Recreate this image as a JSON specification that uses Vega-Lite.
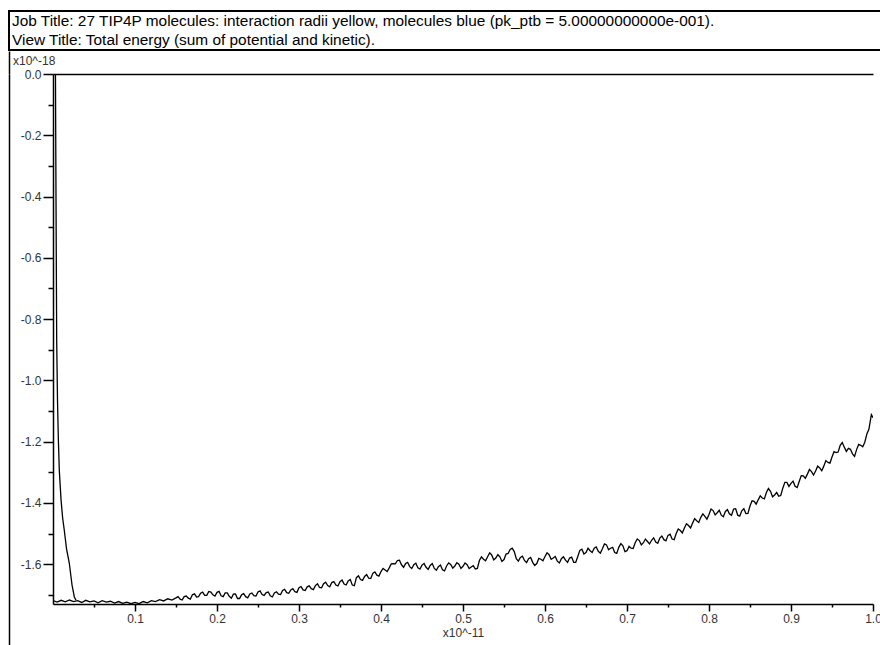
{
  "$schema": "https://vega.github.io/schema/vega-lite/v6.json",
  "padding": {"left": 8, "top": 10, "right": 0, "bottom": 0},
  "background": "white",
  "config": {
    "font": "Liberation Sans",
    "view": {"stroke": null},
    "axis": {"grid": false}
  },
  "datasets": {
    "header": [
      {"row": 1, "text": "Job Title: 27 TIP4P molecules: interaction radii yellow, molecules blue (pk_ptb = 5.00000000000e-001)."},
      {"row": 2, "text": "View Title: Total energy (sum of potential and kinetic)."}
    ],
    "unit": [
      {"label": "x10^-18"}
    ],
    "energy": [
      {"seg": "a", "t": 0.0030, "e": 0.0},
      {"seg": "a", "t": 0.0034, "e": -0.25},
      {"seg": "a", "t": 0.0037, "e": -0.42},
      {"seg": "a", "t": 0.0041, "e": -0.65},
      {"seg": "a", "t": 0.0045, "e": -0.87},
      {"seg": "a", "t": 0.0055, "e": -1.067},
      {"seg": "a", "t": 0.0065, "e": -1.19},
      {"seg": "a", "t": 0.0077, "e": -1.294},
      {"seg": "a", "t": 0.0098, "e": -1.39},
      {"seg": "a", "t": 0.0118, "e": -1.45},
      {"seg": "a", "t": 0.0138, "e": -1.49},
      {"seg": "a", "t": 0.0165, "e": -1.55},
      {"seg": "a", "t": 0.0199, "e": -1.597},
      {"seg": "a", "t": 0.0232, "e": -1.668},
      {"seg": "a", "t": 0.026, "e": -1.707},
      {"seg": "a", "t": 0.028, "e": -1.718},
      {"seg": "b", "t": 0.000, "e": -1.719},
      {"seg": "b", "t": 0.005, "e": -1.724},
      {"seg": "b", "t": 0.010, "e": -1.718},
      {"seg": "b", "t": 0.015, "e": -1.723},
      {"seg": "b", "t": 0.020, "e": -1.717},
      {"seg": "b", "t": 0.025, "e": -1.722},
      {"seg": "b", "t": 0.030, "e": -1.719},
      {"seg": "b", "t": 0.035, "e": -1.725},
      {"seg": "b", "t": 0.040, "e": -1.718},
      {"seg": "b", "t": 0.045, "e": -1.723},
      {"seg": "b", "t": 0.050, "e": -1.720},
      {"seg": "b", "t": 0.055, "e": -1.726},
      {"seg": "b", "t": 0.060, "e": -1.719},
      {"seg": "b", "t": 0.065, "e": -1.724},
      {"seg": "b", "t": 0.070, "e": -1.721},
      {"seg": "b", "t": 0.075, "e": -1.727},
      {"seg": "b", "t": 0.080, "e": -1.722},
      {"seg": "b", "t": 0.085, "e": -1.728},
      {"seg": "b", "t": 0.090, "e": -1.724},
      {"seg": "b", "t": 0.095, "e": -1.729},
      {"seg": "b", "t": 0.100, "e": -1.725},
      {"seg": "b", "t": 0.105, "e": -1.729},
      {"seg": "b", "t": 0.110, "e": -1.722},
      {"seg": "b", "t": 0.115, "e": -1.726},
      {"seg": "b", "t": 0.120, "e": -1.719},
      {"seg": "b", "t": 0.125, "e": -1.722},
      {"seg": "b", "t": 0.130, "e": -1.716},
      {"seg": "b", "t": 0.135, "e": -1.720},
      {"seg": "b", "t": 0.140, "e": -1.713},
      {"seg": "b", "t": 0.145, "e": -1.717},
      {"seg": "b", "t": 0.150, "e": -1.710},
      {"seg": "b", "t": 0.155, "e": -1.714},
      {"seg": "b", "t": 0.160, "e": -1.706},
      {"seg": "b", "t": 0.165, "e": -1.711},
      {"seg": "b", "t": 0.170, "e": -1.700},
      {"seg": "b", "t": 0.175, "e": -1.707},
      {"seg": "b", "t": 0.180, "e": -1.695},
      {"seg": "b", "t": 0.185, "e": -1.702},
      {"seg": "b", "t": 0.190, "e": -1.689},
      {"seg": "b", "t": 0.195, "e": -1.700},
      {"seg": "b", "t": 0.200, "e": -1.692},
      {"seg": "b", "t": 0.205, "e": -1.703},
      {"seg": "b", "t": 0.210, "e": -1.694},
      {"seg": "b", "t": 0.215, "e": -1.705},
      {"seg": "b", "t": 0.220, "e": -1.698},
      {"seg": "b", "t": 0.225, "e": -1.712},
      {"seg": "b", "t": 0.230, "e": -1.700},
      {"seg": "b", "t": 0.235, "e": -1.706},
      {"seg": "b", "t": 0.240, "e": -1.697},
      {"seg": "b", "t": 0.245, "e": -1.703},
      {"seg": "b", "t": 0.250, "e": -1.691},
      {"seg": "b", "t": 0.255, "e": -1.699},
      {"seg": "b", "t": 0.260, "e": -1.693},
      {"seg": "b", "t": 0.265, "e": -1.703},
      {"seg": "b", "t": 0.270, "e": -1.694},
      {"seg": "b", "t": 0.275, "e": -1.698},
      {"seg": "b", "t": 0.280, "e": -1.686},
      {"seg": "b", "t": 0.285, "e": -1.693},
      {"seg": "b", "t": 0.290, "e": -1.684},
      {"seg": "b", "t": 0.295, "e": -1.690},
      {"seg": "b", "t": 0.300, "e": -1.677},
      {"seg": "b", "t": 0.305, "e": -1.684},
      {"seg": "b", "t": 0.310, "e": -1.674},
      {"seg": "b", "t": 0.315, "e": -1.680},
      {"seg": "b", "t": 0.320, "e": -1.670},
      {"seg": "b", "t": 0.325, "e": -1.676},
      {"seg": "b", "t": 0.330, "e": -1.664},
      {"seg": "b", "t": 0.335, "e": -1.670},
      {"seg": "b", "t": 0.340, "e": -1.660},
      {"seg": "b", "t": 0.345, "e": -1.668},
      {"seg": "b", "t": 0.350, "e": -1.657},
      {"seg": "b", "t": 0.355, "e": -1.665},
      {"seg": "b", "t": 0.360, "e": -1.655},
      {"seg": "b", "t": 0.365, "e": -1.668},
      {"seg": "b", "t": 0.370, "e": -1.644},
      {"seg": "b", "t": 0.375, "e": -1.650},
      {"seg": "b", "t": 0.380, "e": -1.640},
      {"seg": "b", "t": 0.385, "e": -1.646},
      {"seg": "b", "t": 0.390, "e": -1.630},
      {"seg": "b", "t": 0.395, "e": -1.636},
      {"seg": "b", "t": 0.400, "e": -1.624},
      {"seg": "b", "t": 0.405, "e": -1.619},
      {"seg": "b", "t": 0.410, "e": -1.612},
      {"seg": "b", "t": 0.415, "e": -1.598},
      {"seg": "b", "t": 0.420, "e": -1.588},
      {"seg": "b", "t": 0.425, "e": -1.602},
      {"seg": "b", "t": 0.430, "e": -1.598},
      {"seg": "b", "t": 0.435, "e": -1.608},
      {"seg": "b", "t": 0.440, "e": -1.602},
      {"seg": "b", "t": 0.445, "e": -1.612},
      {"seg": "b", "t": 0.450, "e": -1.603},
      {"seg": "b", "t": 0.455, "e": -1.610},
      {"seg": "b", "t": 0.460, "e": -1.604},
      {"seg": "b", "t": 0.465, "e": -1.614},
      {"seg": "b", "t": 0.470, "e": -1.608},
      {"seg": "b", "t": 0.475, "e": -1.618},
      {"seg": "b", "t": 0.480, "e": -1.606},
      {"seg": "b", "t": 0.485, "e": -1.601},
      {"seg": "b", "t": 0.490, "e": -1.606},
      {"seg": "b", "t": 0.495, "e": -1.600},
      {"seg": "b", "t": 0.500, "e": -1.607},
      {"seg": "b", "t": 0.505, "e": -1.602},
      {"seg": "b", "t": 0.510, "e": -1.609},
      {"seg": "b", "t": 0.515, "e": -1.616},
      {"seg": "b", "t": 0.520, "e": -1.588},
      {"seg": "b", "t": 0.525, "e": -1.584},
      {"seg": "b", "t": 0.530, "e": -1.576},
      {"seg": "b", "t": 0.535, "e": -1.570},
      {"seg": "b", "t": 0.540, "e": -1.580},
      {"seg": "b", "t": 0.545, "e": -1.576},
      {"seg": "b", "t": 0.550, "e": -1.585},
      {"seg": "b", "t": 0.555, "e": -1.565},
      {"seg": "b", "t": 0.560, "e": -1.548},
      {"seg": "b", "t": 0.565, "e": -1.582},
      {"seg": "b", "t": 0.570, "e": -1.578},
      {"seg": "b", "t": 0.575, "e": -1.588},
      {"seg": "b", "t": 0.580, "e": -1.582},
      {"seg": "b", "t": 0.585, "e": -1.594},
      {"seg": "b", "t": 0.590, "e": -1.598},
      {"seg": "b", "t": 0.595, "e": -1.584},
      {"seg": "b", "t": 0.600, "e": -1.575},
      {"seg": "b", "t": 0.605, "e": -1.569},
      {"seg": "b", "t": 0.610, "e": -1.580},
      {"seg": "b", "t": 0.615, "e": -1.590},
      {"seg": "b", "t": 0.620, "e": -1.582},
      {"seg": "b", "t": 0.625, "e": -1.587},
      {"seg": "b", "t": 0.630, "e": -1.580},
      {"seg": "b", "t": 0.635, "e": -1.594},
      {"seg": "b", "t": 0.640, "e": -1.575},
      {"seg": "b", "t": 0.645, "e": -1.551},
      {"seg": "b", "t": 0.650, "e": -1.562},
      {"seg": "b", "t": 0.655, "e": -1.556},
      {"seg": "b", "t": 0.660, "e": -1.548},
      {"seg": "b", "t": 0.665, "e": -1.558},
      {"seg": "b", "t": 0.670, "e": -1.550},
      {"seg": "b", "t": 0.675, "e": -1.537},
      {"seg": "b", "t": 0.680, "e": -1.548},
      {"seg": "b", "t": 0.685, "e": -1.562},
      {"seg": "b", "t": 0.690, "e": -1.545},
      {"seg": "b", "t": 0.695, "e": -1.540},
      {"seg": "b", "t": 0.700, "e": -1.556},
      {"seg": "b", "t": 0.705, "e": -1.548},
      {"seg": "b", "t": 0.710, "e": -1.530},
      {"seg": "b", "t": 0.715, "e": -1.523},
      {"seg": "b", "t": 0.720, "e": -1.530},
      {"seg": "b", "t": 0.725, "e": -1.526},
      {"seg": "b", "t": 0.730, "e": -1.522},
      {"seg": "b", "t": 0.735, "e": -1.528},
      {"seg": "b", "t": 0.740, "e": -1.515},
      {"seg": "b", "t": 0.745, "e": -1.520},
      {"seg": "b", "t": 0.750, "e": -1.506},
      {"seg": "b", "t": 0.755, "e": -1.518},
      {"seg": "b", "t": 0.760, "e": -1.500},
      {"seg": "b", "t": 0.765, "e": -1.490},
      {"seg": "b", "t": 0.770, "e": -1.482},
      {"seg": "b", "t": 0.775, "e": -1.474},
      {"seg": "b", "t": 0.780, "e": -1.466},
      {"seg": "b", "t": 0.785, "e": -1.458},
      {"seg": "b", "t": 0.790, "e": -1.447},
      {"seg": "b", "t": 0.795, "e": -1.444},
      {"seg": "b", "t": 0.800, "e": -1.438},
      {"seg": "b", "t": 0.805, "e": -1.425},
      {"seg": "b", "t": 0.810, "e": -1.432},
      {"seg": "b", "t": 0.815, "e": -1.440},
      {"seg": "b", "t": 0.820, "e": -1.428},
      {"seg": "b", "t": 0.825, "e": -1.436},
      {"seg": "b", "t": 0.830, "e": -1.420},
      {"seg": "b", "t": 0.835, "e": -1.440},
      {"seg": "b", "t": 0.840, "e": -1.426},
      {"seg": "b", "t": 0.845, "e": -1.435},
      {"seg": "b", "t": 0.850, "e": -1.410},
      {"seg": "b", "t": 0.855, "e": -1.395},
      {"seg": "b", "t": 0.860, "e": -1.390},
      {"seg": "b", "t": 0.865, "e": -1.384},
      {"seg": "b", "t": 0.870, "e": -1.366},
      {"seg": "b", "t": 0.875, "e": -1.362},
      {"seg": "b", "t": 0.880, "e": -1.374},
      {"seg": "b", "t": 0.885, "e": -1.378},
      {"seg": "b", "t": 0.890, "e": -1.352},
      {"seg": "b", "t": 0.895, "e": -1.333},
      {"seg": "b", "t": 0.900, "e": -1.336},
      {"seg": "b", "t": 0.905, "e": -1.346},
      {"seg": "b", "t": 0.910, "e": -1.330},
      {"seg": "b", "t": 0.915, "e": -1.312},
      {"seg": "b", "t": 0.920, "e": -1.306},
      {"seg": "b", "t": 0.925, "e": -1.298},
      {"seg": "b", "t": 0.930, "e": -1.296},
      {"seg": "b", "t": 0.935, "e": -1.286},
      {"seg": "b", "t": 0.940, "e": -1.280},
      {"seg": "b", "t": 0.945, "e": -1.268},
      {"seg": "b", "t": 0.950, "e": -1.250},
      {"seg": "b", "t": 0.955, "e": -1.236},
      {"seg": "b", "t": 0.960, "e": -1.212},
      {"seg": "b", "t": 0.965, "e": -1.218},
      {"seg": "b", "t": 0.970, "e": -1.222},
      {"seg": "b", "t": 0.975, "e": -1.240},
      {"seg": "b", "t": 0.980, "e": -1.226},
      {"seg": "b", "t": 0.985, "e": -1.212},
      {"seg": "b", "t": 0.990, "e": -1.202},
      {"seg": "b", "t": 0.995, "e": -1.160},
      {"seg": "b", "t": 0.998, "e": -1.112},
      {"seg": "b", "t": 1.000, "e": -1.122},
      {"seg": "b", "t": 0.1525, "e": -1.706},
      {"seg": "b", "t": 0.1575, "e": -1.717},
      {"seg": "b", "t": 0.1625, "e": -1.704},
      {"seg": "b", "t": 0.1675, "e": -1.714},
      {"seg": "b", "t": 0.1725, "e": -1.697},
      {"seg": "b", "t": 0.1775, "e": -1.706},
      {"seg": "b", "t": 0.1825, "e": -1.691},
      {"seg": "b", "t": 0.1875, "e": -1.702},
      {"seg": "b", "t": 0.1925, "e": -1.691},
      {"seg": "b", "t": 0.1975, "e": -1.704},
      {"seg": "b", "t": 0.2025, "e": -1.689},
      {"seg": "b", "t": 0.2075, "e": -1.706},
      {"seg": "b", "t": 0.2125, "e": -1.694},
      {"seg": "b", "t": 0.2175, "e": -1.711},
      {"seg": "b", "t": 0.2225, "e": -1.697},
      {"seg": "b", "t": 0.2275, "e": -1.712},
      {"seg": "b", "t": 0.2325, "e": -1.696},
      {"seg": "b", "t": 0.2375, "e": -1.710},
      {"seg": "b", "t": 0.2425, "e": -1.694},
      {"seg": "b", "t": 0.2475, "e": -1.704},
      {"seg": "b", "t": 0.2525, "e": -1.687},
      {"seg": "b", "t": 0.2575, "e": -1.702},
      {"seg": "b", "t": 0.2625, "e": -1.691},
      {"seg": "b", "t": 0.2675, "e": -1.707},
      {"seg": "b", "t": 0.2725, "e": -1.690},
      {"seg": "b", "t": 0.2775, "e": -1.699},
      {"seg": "b", "t": 0.2825, "e": -1.682},
      {"seg": "b", "t": 0.2875, "e": -1.695},
      {"seg": "b", "t": 0.2925, "e": -1.680},
      {"seg": "b", "t": 0.2975, "e": -1.692},
      {"seg": "b", "t": 0.3025, "e": -1.673},
      {"seg": "b", "t": 0.3075, "e": -1.686},
      {"seg": "b", "t": 0.3125, "e": -1.671},
      {"seg": "b", "t": 0.3175, "e": -1.683},
      {"seg": "b", "t": 0.3225, "e": -1.664},
      {"seg": "b", "t": 0.3275, "e": -1.677},
      {"seg": "b", "t": 0.3325, "e": -1.659},
      {"seg": "b", "t": 0.3375, "e": -1.674},
      {"seg": "b", "t": 0.3425, "e": -1.657},
      {"seg": "b", "t": 0.3475, "e": -1.671},
      {"seg": "b", "t": 0.3525, "e": -1.652},
      {"seg": "b", "t": 0.3575, "e": -1.668},
      {"seg": "b", "t": 0.3625, "e": -1.650},
      {"seg": "b", "t": 0.3675, "e": -1.670},
      {"seg": "b", "t": 0.3725, "e": -1.638},
      {"seg": "b", "t": 0.3775, "e": -1.653},
      {"seg": "b", "t": 0.3825, "e": -1.634},
      {"seg": "b", "t": 0.3875, "e": -1.647},
      {"seg": "b", "t": 0.3925, "e": -1.625},
      {"seg": "b", "t": 0.3975, "e": -1.639},
      {"seg": "b", "t": 0.4025, "e": -1.614},
      {"seg": "b", "t": 0.4075, "e": -1.624},
      {"seg": "b", "t": 0.4125, "e": -1.599},
      {"seg": "b", "t": 0.4175, "e": -1.599},
      {"seg": "b", "t": 0.4225, "e": -1.587},
      {"seg": "b", "t": 0.4275, "e": -1.610},
      {"seg": "b", "t": 0.4325, "e": -1.594},
      {"seg": "b", "t": 0.4375, "e": -1.614},
      {"seg": "b", "t": 0.4425, "e": -1.597},
      {"seg": "b", "t": 0.4475, "e": -1.616},
      {"seg": "b", "t": 0.4525, "e": -1.598},
      {"seg": "b", "t": 0.4575, "e": -1.617},
      {"seg": "b", "t": 0.4625, "e": -1.598},
      {"seg": "b", "t": 0.4675, "e": -1.620},
      {"seg": "b", "t": 0.4725, "e": -1.603},
      {"seg": "b", "t": 0.4775, "e": -1.622},
      {"seg": "b", "t": 0.4825, "e": -1.596},
      {"seg": "b", "t": 0.4875, "e": -1.613},
      {"seg": "b", "t": 0.4925, "e": -1.595},
      {"seg": "b", "t": 0.4975, "e": -1.614},
      {"seg": "b", "t": 0.5025, "e": -1.596},
      {"seg": "b", "t": 0.5075, "e": -1.614},
      {"seg": "b", "t": 0.5125, "e": -1.605},
      {"seg": "b", "t": 0.5175, "e": -1.614},
      {"seg": "b", "t": 0.5225, "e": -1.576},
      {"seg": "b", "t": 0.5275, "e": -1.589},
      {"seg": "b", "t": 0.5325, "e": -1.563},
      {"seg": "b", "t": 0.5375, "e": -1.586},
      {"seg": "b", "t": 0.5425, "e": -1.569},
      {"seg": "b", "t": 0.5475, "e": -1.591},
      {"seg": "b", "t": 0.5525, "e": -1.567},
      {"seg": "b", "t": 0.5575, "e": -1.552},
      {"seg": "b", "t": 0.5625, "e": -1.559},
      {"seg": "b", "t": 0.5675, "e": -1.590},
      {"seg": "b", "t": 0.5725, "e": -1.574},
      {"seg": "b", "t": 0.5775, "e": -1.595},
      {"seg": "b", "t": 0.5825, "e": -1.578},
      {"seg": "b", "t": 0.5875, "e": -1.604},
      {"seg": "b", "t": 0.5925, "e": -1.581},
      {"seg": "b", "t": 0.5975, "e": -1.589},
      {"seg": "b", "t": 0.6025, "e": -1.563},
      {"seg": "b", "t": 0.6075, "e": -1.584},
      {"seg": "b", "t": 0.6125, "e": -1.575},
      {"seg": "b", "t": 0.6175, "e": -1.596},
      {"seg": "b", "t": 0.6225, "e": -1.576},
      {"seg": "b", "t": 0.6275, "e": -1.594},
      {"seg": "b", "t": 0.6325, "e": -1.577},
      {"seg": "b", "t": 0.6375, "e": -1.594},
      {"seg": "b", "t": 0.6425, "e": -1.555},
      {"seg": "b", "t": 0.6475, "e": -1.567},
      {"seg": "b", "t": 0.6525, "e": -1.548},
      {"seg": "b", "t": 0.6575, "e": -1.562},
      {"seg": "b", "t": 0.6625, "e": -1.544},
      {"seg": "b", "t": 0.6675, "e": -1.564},
      {"seg": "b", "t": 0.6725, "e": -1.534},
      {"seg": "b", "t": 0.6775, "e": -1.553},
      {"seg": "b", "t": 0.6825, "e": -1.545},
      {"seg": "b", "t": 0.6875, "e": -1.565},
      {"seg": "b", "t": 0.6925, "e": -1.533},
      {"seg": "b", "t": 0.6975, "e": -1.559},
      {"seg": "b", "t": 0.7025, "e": -1.542},
      {"seg": "b", "t": 0.7075, "e": -1.549},
      {"seg": "b", "t": 0.7125, "e": -1.518},
      {"seg": "b", "t": 0.7175, "e": -1.537},
      {"seg": "b", "t": 0.7225, "e": -1.518},
      {"seg": "b", "t": 0.7275, "e": -1.534},
      {"seg": "b", "t": 0.7325, "e": -1.514},
      {"seg": "b", "t": 0.7375, "e": -1.532},
      {"seg": "b", "t": 0.7425, "e": -1.508},
      {"seg": "b", "t": 0.7475, "e": -1.524},
      {"seg": "b", "t": 0.7525, "e": -1.502},
      {"seg": "b", "t": 0.7575, "e": -1.520},
      {"seg": "b", "t": 0.7625, "e": -1.485},
      {"seg": "b", "t": 0.7675, "e": -1.498},
      {"seg": "b", "t": 0.7725, "e": -1.468},
      {"seg": "b", "t": 0.7775, "e": -1.482},
      {"seg": "b", "t": 0.7825, "e": -1.451},
      {"seg": "b", "t": 0.7875, "e": -1.464},
      {"seg": "b", "t": 0.7925, "e": -1.436},
      {"seg": "b", "t": 0.7975, "e": -1.453},
      {"seg": "b", "t": 0.8025, "e": -1.420},
      {"seg": "b", "t": 0.8075, "e": -1.439},
      {"seg": "b", "t": 0.8125, "e": -1.424},
      {"seg": "b", "t": 0.8175, "e": -1.445},
      {"seg": "b", "t": 0.8225, "e": -1.422},
      {"seg": "b", "t": 0.8275, "e": -1.440},
      {"seg": "b", "t": 0.8325, "e": -1.419},
      {"seg": "b", "t": 0.8375, "e": -1.443},
      {"seg": "b", "t": 0.8425, "e": -1.419},
      {"seg": "b", "t": 0.8475, "e": -1.434},
      {"seg": "b", "t": 0.8525, "e": -1.393},
      {"seg": "b", "t": 0.8575, "e": -1.404},
      {"seg": "b", "t": 0.8625, "e": -1.377},
      {"seg": "b", "t": 0.8675, "e": -1.387},
      {"seg": "b", "t": 0.8725, "e": -1.353},
      {"seg": "b", "t": 0.8775, "e": -1.380},
      {"seg": "b", "t": 0.8825, "e": -1.366},
      {"seg": "b", "t": 0.8875, "e": -1.376},
      {"seg": "b", "t": 0.8925, "e": -1.333},
      {"seg": "b", "t": 0.8975, "e": -1.346},
      {"seg": "b", "t": 0.9025, "e": -1.329},
      {"seg": "b", "t": 0.9075, "e": -1.350},
      {"seg": "b", "t": 0.9125, "e": -1.311},
      {"seg": "b", "t": 0.9175, "e": -1.320},
      {"seg": "b", "t": 0.9225, "e": -1.291},
      {"seg": "b", "t": 0.9275, "e": -1.309},
      {"seg": "b", "t": 0.9325, "e": -1.280},
      {"seg": "b", "t": 0.9375, "e": -1.295},
      {"seg": "b", "t": 0.9425, "e": -1.262},
      {"seg": "b", "t": 0.9475, "e": -1.270},
      {"seg": "b", "t": 0.9525, "e": -1.233},
      {"seg": "b", "t": 0.9575, "e": -1.234},
      {"seg": "b", "t": 0.9625, "e": -1.203},
      {"seg": "b", "t": 0.9675, "e": -1.232},
      {"seg": "b", "t": 0.9725, "e": -1.225},
      {"seg": "b", "t": 0.9775, "e": -1.248},
      {"seg": "b", "t": 0.9825, "e": -1.209},
      {"seg": "b", "t": 0.9875, "e": -1.217},
      {"seg": "b", "t": 0.9925, "e": -1.175}
    ]
  },
  "spacing": -7,
  "vconcat": [
    {
      "spacing": 0,
      "vconcat": [
        {
          "width": 880,
          "height": 39,
          "view": {"stroke": "black", "strokeWidth": 2},
          "data": {"name": "header"},
          "mark": {"type": "text", "align": "left", "baseline": "middle", "dx": 3, "fontSize": 15.4, "color": "black", "font": "Liberation Sans"},
          "encoding": {
            "x": {"datum": 0, "type": "quantitative", "scale": {"domain": [0, 1]}, "axis": null},
            "y": {"field": "row", "type": "ordinal", "axis": null},
            "text": {"field": "text"}
          }
        },
        {
          "width": 880,
          "height": 23,
          "data": {"name": "unit"},
          "mark": {"type": "text", "align": "left", "baseline": "middle", "dx": 4, "fontSize": 12, "color": "#333", "font": "Liberation Sans"},
          "encoding": {
            "x": {"datum": 0, "type": "quantitative", "scale": {"domain": [0, 1]}, "axis": null},
            "y": {
              "datum": 0.58, "type": "quantitative", "scale": {"domain": [0, 1]},
              "axis": {"domain": true, "domainColor": "black", "domainWidth": 1.5, "ticks": false, "labels": false, "title": null, "grid": false, "minExtent": 0}
            },
            "text": {"field": "label"}
          }
        }
      ]
    },
    {
      "spacing": 0,
      "hconcat": [
        {
          "width": 1,
          "height": 572,
          "data": {"values": []},
          "mark": "text",
          "encoding": {
            "y": {
              "datum": 0, "type": "quantitative", "scale": {"domain": [0, 1]},
              "axis": {"domain": true, "domainColor": "black", "domainWidth": 1.5, "ticks": false, "labels": false, "title": null, "grid": false, "minExtent": 0}
            }
          }
        },
        {
          "width": 820,
          "height": 530,
          "data": {"name": "energy"},
          "resolve": {"axis": {"x": "independent"}},
          "layer": [
            {
              "mark": {"type": "line", "color": "black", "strokeWidth": 1.3, "clip": true},
              "encoding": {
                "x": {
                  "field": "t", "type": "quantitative",
                  "scale": {"domain": [0, 1], "nice": false, "zero": false},
                  "axis": {
                    "orient": "bottom",
                    "title": "x10^-11",
                    "titleFont": "Liberation Sans", "titleFontSize": 12, "titleFontWeight": "normal", "titleColor": "#333", "titlePadding": 3,
                    "values": [0.05, 0.1, 0.15, 0.2, 0.25, 0.3, 0.35, 0.4, 0.45, 0.5, 0.55, 0.6, 0.65, 0.7, 0.75, 0.8, 0.85, 0.9, 0.95, 1.0],
                    "labelExpr": "round(datum.value*20) % 2 == 0 ? format(datum.value, '.1f') : ''",
                    "labelOverlap": false, "labelFlush": false,
                    "labelFont": "Liberation Sans", "labelFontSize": 12, "labelColor": "#333", "labelPadding": 2,
                    "domainColor": "black", "domainWidth": 1.5,
                    "tickColor": "black", "tickWidth": 1.5,
                    "tickSize": {"condition": {"test": "round(datum.value*20) % 2 == 0", "value": 7}, "value": 3}
                  }
                },
                "y": {
                  "field": "e", "type": "quantitative",
                  "scale": {"domain": [-1.73, 0], "nice": false, "zero": false},
                  "axis": {
                    "title": null,
                    "minExtent": 43,
                    "values": [0, -0.1, -0.2, -0.3, -0.4, -0.5, -0.6, -0.7, -0.8, -0.9, -1.0, -1.1, -1.2, -1.3, -1.4, -1.5, -1.6, -1.7],
                    "format": ".1f",
                    "labelExpr": "abs(round(datum.value*10)) % 2 == 0 ? replace(datum.label, '\u2212', '-') : ''",
                    "labelOverlap": false, "labelFlush": false,
                    "labelFont": "Liberation Sans", "labelFontSize": 12, "labelColor": "#333", "labelPadding": 2,
                    "domainColor": "black", "domainWidth": 1.5,
                    "tickColor": "black", "tickWidth": 1.5,
                    "tickSize": {"condition": {"test": "abs(round(datum.value*10)) % 2 == 0", "value": 10}, "value": 5}
                  }
                },
                "detail": {"field": "seg"},
                "order": {"field": "t"}
              }
            },
            {
              "mark": {"type": "point", "opacity": 0},
              "encoding": {
                "x": {
                  "field": "t", "type": "quantitative",
                  "axis": {"orient": "top", "domain": true, "domainColor": "black", "domainWidth": 1.5, "ticks": false, "labels": false, "title": null, "grid": false}
                }
              }
            }
          ]
        }
      ]
    }
  ]
}
